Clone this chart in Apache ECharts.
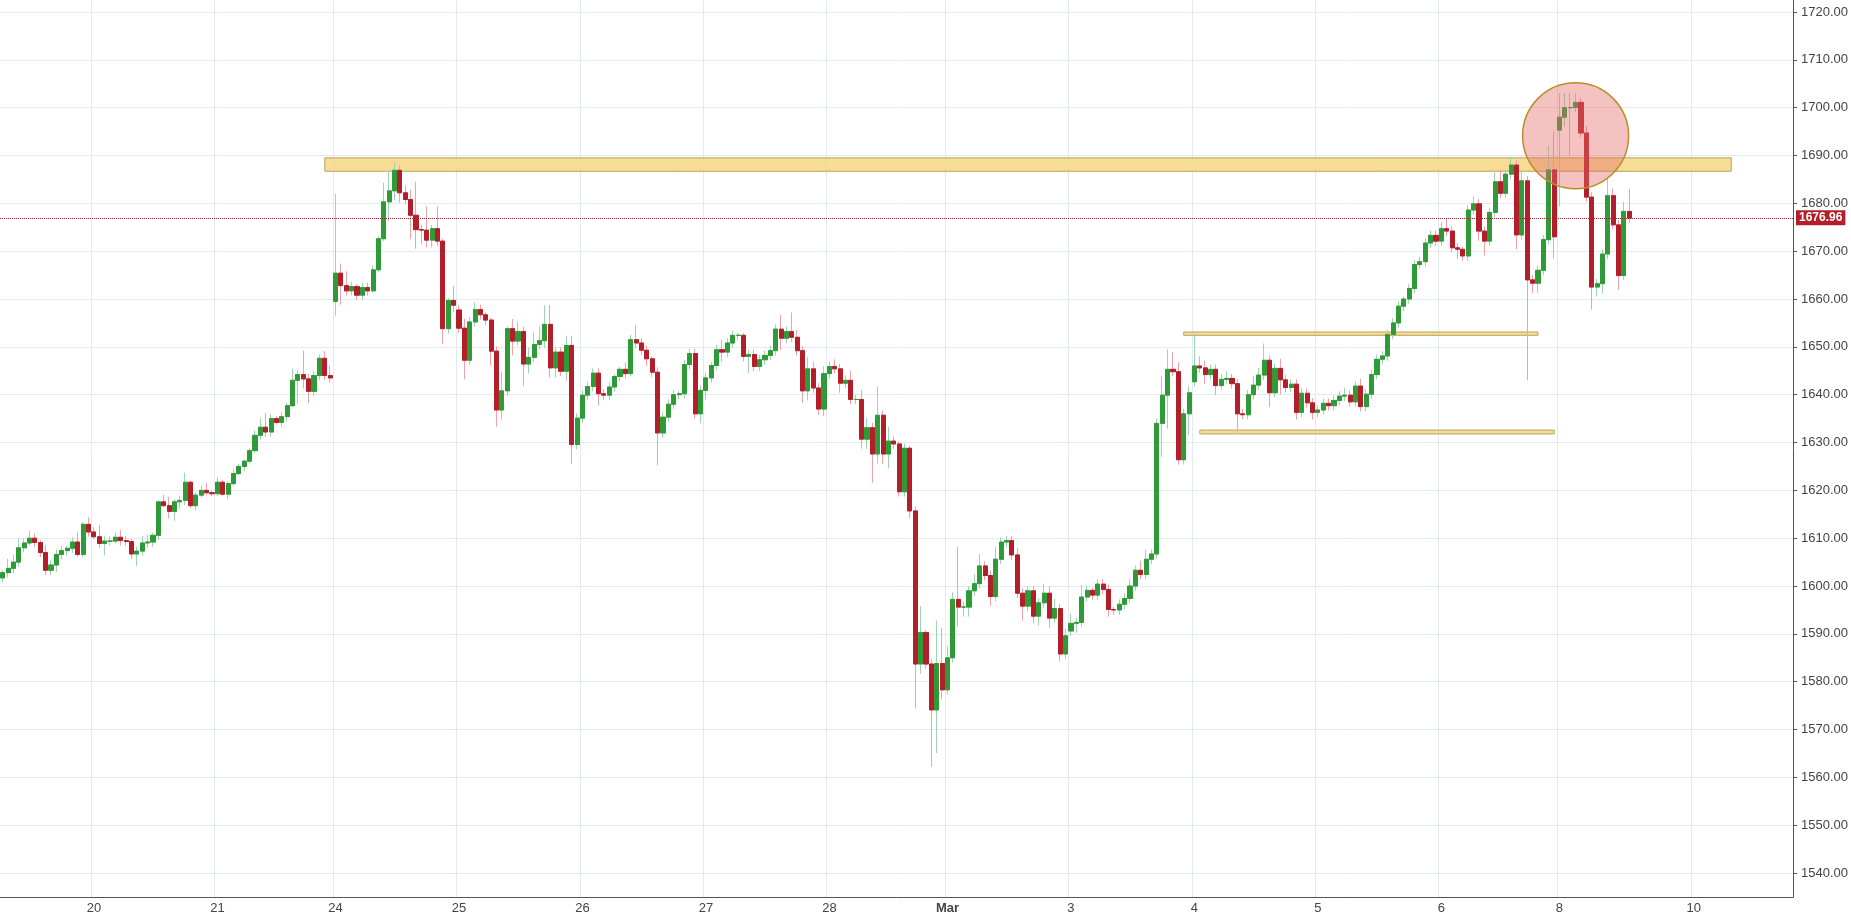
<!DOCTYPE html>
<html>
<head>
<meta charset="utf-8">
<script src="https://cdn.jsdelivr.net/npm/echarts@6/dist/echarts.min.js"></script>
<style>
html, body { margin: 0; padding: 0; background: #fff; }
#chart { width: 1851px; height: 918px; }
</style>
</head>
<body>
<div id="chart"></div>
<script>
// hourly closes
var closes = [
1602.8,1603.7,1605,1608,1609,1610,1609.1,1607,1603.3,1604.4,
1606.6,1607.4,1607.9,1609.2,1606.6,1612.9,1611.3,1610.3,1608.9,1609.4,
1609.4,1610.2,1609.5,1609.3,1606.7,1607.3,1609,1609.2,1610.6,1617.6,
1616.8,1615.6,1617.6,1617.9,1621.7,1616.8,1619,1620,1619.5,1619.3,
1621.7,1619.2,1621.4,1623.5,1625,1626.1,1628.3,1631.5,1633.2,1632.2,
1635,1634.2,1635.4,1637.7,1643,1644.2,1643.3,1640.7,1644,1647.6,
1644,1643.5,1665.4,1662.8,1661.7,1662.6,1660.8,1662.4,1661.7,1666.1,
1672.6,1680.3,1682.6,1686.9,1682.2,1680.8,1677.5,1674.5,1674.4,1672.3,
1674.7,1672.1,1653.8,1659.7,1658.7,1653.9,1647.2,1655.2,1657.8,1656.7,
1655.6,1649.1,1636.8,1640.8,1653.8,1651.2,1653.2,1646.4,1647.8,1650.5,
1651.3,1654.7,1645.6,1648.9,1644.9,1650.3,1629.6,1635.1,1639.9,1641.7,
1644.5,1640.2,1639.9,1641.6,1643.8,1645.3,1644.4,1651.5,1650.8,1649.3,
1647.5,1644.7,1632,1635.3,1638,1640,1640.2,1646.3,1648.6,1636,
1640.9,1643.5,1646.1,1649.4,1648.9,1650.8,1652.4,1652.4,1648,1648.4,
1645.9,1647.3,1648.2,1649.2,1653.7,1651.8,1653.2,1652,1649.2,1640.8,
1645.4,1641.4,1637,1644.4,1645.9,1645.4,1642.4,1643,1639,1639,
1630.7,1633.1,1627.6,1635.7,1627.6,1630.3,1629.7,1619.7,1628.8,1615.7,
1583.7,1590.3,1583.7,1574.1,1583.8,1578.3,1585,1597.2,1595.6,1595.6,
1599,1600.5,1604.2,1602.2,1597.8,1605.6,1609.2,1609.5,1606.5,1598.5,
1595.8,1599,1593.7,1596.5,1598.5,1593.3,1595.3,1585.8,1589.6,1592.2,
1592.4,1597.7,1599.1,1598.1,1600.4,1599.3,1595.1,1595,1596.2,1597.4,
1600,1603.3,1602.4,1605.6,1606.7,1634,1639.9,1645.3,1644.8,1626.4,
1636,1640.4,1646,1645.6,1644.2,1645.3,1641.9,1643.2,1643.4,1642.3,
1636,1635.8,1640,1642,1644.1,1647.2,1640.4,1645.5,1643.1,1641.5,
1642.2,1636.3,1640.3,1638.3,1636.3,1636.8,1638.2,1637.7,1638.8,1639.7,
1639.9,1638.5,1641.8,1637.5,1640.1,1644.2,1647.4,1648.1,1652.6,1655,
1658.5,1660,1662.2,1667.2,1667.8,1671.7,1673.3,1672.1,1674.7,1674.2,
1670.7,1670.4,1669,1678.6,1679.9,1674.2,1672.1,1678.1,1684.5,1682.1,
1686.1,1688,1673.4,1684.7,1664,1663.3,1666,1672.4,1687,1673,
1698,1700,1700,1701.1,1694.7,1681.3,1662.5,1663.2,1669.4,1681.6,
1675.5,1664.9,1678.3,1676.9
];
// opens that do not equal the previous close (session gaps)
var gapOpens = { 0: 1601.7, 62: 1659.5, 85: 1657.7, 199: 1590.6, 222: 1642.7, 290: 1695.3, 296: 1681.3 };
var wickUp = [
0.5,2,1.5,2,1,1.5,1,0.5,1.5,1, 1,1,0.5,1,2,0.5,1.5,1,2.5,1,
1,1,1.5,1,0.5,1,1.5,1.5,0.5,0.3, 1.5,1.8,0.5,1,2,0.3,0.5,1,1.5,0.5,
1,0.5,0.5,1,0.5,0.3,0.5,1,2,3, 1,0.5,1,0.5,2.4,1,5,1,1,0.8,
1.5,2,16.6,2,3,1,0.5,1,1,1, 0.5,4,4,1.6,1,1.5,2,7,1,5,
0.8,4.7,0.5,0.5,3,1,2,1,1.5,1, 0.5,0.5,1,4,0.5,2,2,1,2,2.5,
3,4,4,1,1,2,2,1,1,1, 1,1,1,1,0.5,0.5,1.5,1,3,1,
1,0.5,1,1,1,1,0.5,1,1,1, 1,1,0.8,1,2,1,1,0.5,0.5,1,
1,1,1,1,1,3,1,4,1.5,1, 2.5,1.5,1,1.5,1,1.5,1,1,2,1,
2,2,1,6,1,3,1,0.5,1,0.5, 1,5.5,0.5,1,9,7.5,2.5,1.5,11,1,
1,2,2.5,1,1,2.5,1,1,1,1.5, 1,1,1,1,2,1.5,2,1,1.5,2,
1,2.5,1,0.5,1,1,1,0.5,1,1, 1.5,1,2,2,1,1,4,4.2,3.6,2,
1,1.5,6.8,2,1.5,1,1,1,1.5,1, 1,1,1,2,1.5,3.5,1,1,2,1,
1,1,1,1,1,1,1,1,1,1, 1.5,1,1,1.5,1,1,1,1,1,1,
1,0.5,1,1,1,1,1,1,1.5,2, 1,1,0.5,1,1.5,1,1,1,2,2.5,
1,1.7,1,2,1,1,1,1,5,8, 5,3,3,2,1,1.5,1,1,1,3.7,
1.5,1,2,4.7
];
var wickDn = [
1,1,1,1,1,0.5,1,1,1,1, 1.5,1,1,1,0.5,0.5,1,0.5,1,2.5,
1,0.5,1,1,1,2.5,1,1,1,1, 0.3,1.5,2,1.5,1,0.5,1,0.5,0.5,0.5,
0.5,0.3,1,0.5,0.3,1,0.5,0.5,1,1, 1,0.5,1,1,0.3,5,2,2.5,1,1,
1,1,3,4,1,1,1,1,1,0.3, 0.5,0.5,4,2,2,1,5,4,3,1.5,
1.5,1,3.3,1,1.5,1,4,1,1,1, 1,3,3.5,2,1,3,1,4.6,2,1,
1,1.5,2,2,1,2,4,1,1,1, 1,2.5,1,1,1,1,1,0.5,1,1,
1.5,1,6.7,1,1,1,1,1,1,1, 2,2,1,1,2,1,1,1,1,3.5,
1,1,1,1,1,2.5,1,1,1,2.5, 2,1,1.2,1.5,1,1,2,1,1,1,
2,2,6,2,2,3,1,1,1,1.5, 9.3,2,1,11.9,9,2,1,1,4,2,
2,1,1,1,2,1,1,1,1,1, 3,1,1.5,2,1,2,1,1.6,1,1,
2,1,1,1,1,1,1.5,1,1,1, 1,1,1,1,1,1,7,7,1,1,
1,4.5,1,1,2,1,2,1,1,1, 4,1,1,1,1,1,3,1,3,1,
1,1.5,1,1,1.5,1,1,1,1,1, 1,1,1,1,1,1,1,1,1,1,
1,1,1,1,1,1,1,1,1,1, 1,2,1,1,1,2,3,1,1,1,
1,1,3,1,21,2,2,1,1,4.5, 16,2,10,1,1,1,4.7,2,2,1,
1,3,1,1
];
var slotCount = 334;
var dayTicks = [17, 40, 62, 85, 108, 131, 154, 176, 199, 222, 245, 268, 290, 315];
var dayNames = ['20', '21', '24', '25', '26', '27', '28', 'Mar', '3', '4', '5', '6', '8', '10'];
var priceTicks = [1540, 1550, 1560, 1570, 1580, 1590, 1600, 1610, 1620, 1630,
    1640, 1650, 1660, 1670, 1680, 1690, 1700, 1710, 1720];
var lastPrice = 1676.96;
// [fromIdx, toIdx, low, high]
var zones = [[60, 322, 1686.7, 1689.5], [220, 286, 1652.4, 1653.1], [223, 289, 1631.8, 1632.6]];
var circleAt = [293, 1694.1];

var cats = [];
for (var i = 0; i < slotCount; i++) cats.push('h' + i);

var wicks = [], bodies = [];
for (var i = 0; i < closes.length; i++) {
    var o = (i in gapOpens) ? gapOpens[i] : closes[i - 1];
    var c = closes[i];
    var lo = Math.min(o, c), hi = Math.max(o, c);
    wicks.push([o, c, lo - wickDn[i], hi + wickUp[i]]);
    bodies.push([o, c, lo, hi]);
}

var tickSet = {};
dayTicks.forEach(function (t, k) { tickSet[t] = dayNames[k]; });
function isDay(idx) { return tickSet[idx] !== undefined; }

var chart = echarts.init(document.getElementById('chart'));
chart.setOption({
    animation: false,
    backgroundColor: '#fff',
    grid: { left: 0, right: 57, top: 0, bottom: 21 },
    xAxis: {
        type: 'category',
        data: cats,
        boundaryGap: true,
        axisLine: { lineStyle: { color: '#555' } },
        axisTick: { show: false },
        axisLabel: {
            interval: function (idx) { return isDay(idx); },
            formatter: function (v, idx) {
                var n = tickSet[idx];
                return n === 'Mar' ? '{b|Mar}' : n;
            },
            color: '#444', fontSize: 13, margin: 5,
            fontFamily: 'Liberation Sans, Arial',
            rich: { b: { fontWeight: 'bold', color: '#444', fontSize: 13 } }
        },
        splitLine: {
            show: true,
            interval: function (idx) { return isDay(idx); },
            lineStyle: { color: '#e3eaf0' }
        }
    },
    yAxis: {
        type: 'value',
        position: 'right',
        min: 1535, max: 1722.5,
        axisLine: { show: true, lineStyle: { color: '#555' } },
        axisTick: { show: true, length: 4, customValues: priceTicks, lineStyle: { color: '#555' } },
        axisLabel: {
            customValues: priceTicks,
            color: '#444', fontSize: 13, margin: 8,
            fontFamily: 'Liberation Sans, Arial',
            formatter: function (v) { return Number(v).toFixed(2); }
        },
        splitLine: { lineStyle: { color: '#e3eaf0' } }
    },
    series: [
        {
            type: 'candlestick',
            data: wicks,
            barWidth: 4.6,
            itemStyle: {
                color: 'transparent', color0: 'transparent',
                borderColor: '#9fd6b1', borderColor0: '#f0a2aa', borderWidth: 1
            }
        },
        {
            type: 'candlestick',
            data: bodies,
            barWidth: 4.6,
            itemStyle: {
                color: '#2f9a38', color0: '#b21f2a',
                borderColor: '#2f9a38', borderColor0: '#b21f2a', borderWidth: 1
            },
            markArea: {
                silent: true,
                itemStyle: { color: 'rgba(246,214,128,0.85)', borderColor: '#bca265', borderWidth: 1 },
                data: zones.map(function (z) {
                    return [{ coord: [z[0], z[3]] }, { coord: [z[1], z[2]] }];
                })
            },
            markLine: {
                silent: true,
                symbol: 'none',
                lineStyle: { color: '#b21f2a', type: 'dotted', width: 1 },
                label: {
                    position: 'end', distance: 3,
                    formatter: lastPrice.toFixed(2),
                    backgroundColor: '#b21f2a', color: '#fff',
                    fontSize: 12, fontWeight: 'bold', padding: [2, 3, 1, 3],
                    fontFamily: 'Liberation Sans, Arial'
                },
                data: [{ yAxis: lastPrice }]
            }
        },
        {
            type: 'scatter',
            data: [circleAt],
            symbolSize: 106,
            silent: true,
            z: 5,
            itemStyle: { color: 'rgba(232,110,110,0.42)', borderColor: '#b88e2c', borderWidth: 1.5, opacity: 1 }
        }
    ]
});
</script>
</body>
</html>
